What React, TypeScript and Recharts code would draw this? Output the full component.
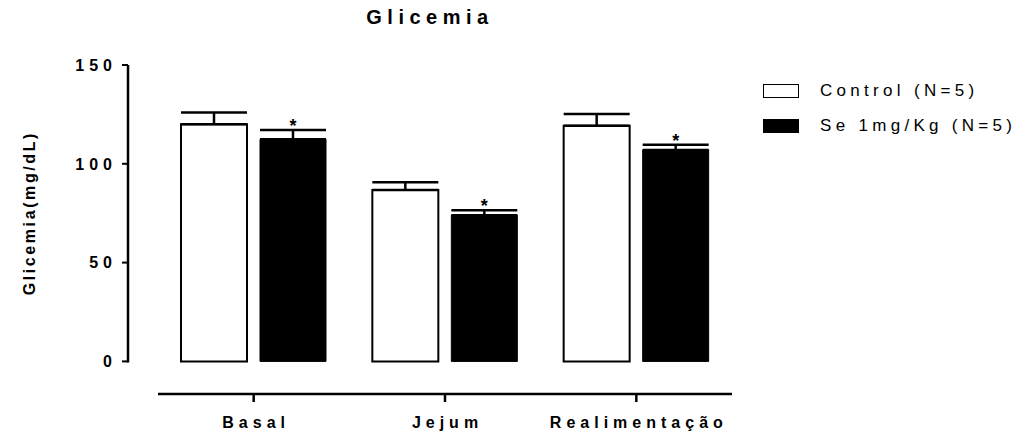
import React from "react";
import { Bar, BarChart, ErrorBar, LabelList, Legend, XAxis, YAxis } from "recharts";

// Glicemia (mg/dL), mean + SEM, n = 5 per group
const CATEGORIES = ["Basal", "Jejum", "Realimentação"];
const CONTROL_MEAN = [120.0, 86.7, 119.3];
const CONTROL_SEM = [5.9, 4.0, 5.9];
const SE_MEAN = [112.4, 74.0, 107.0];
const SE_SEM = [4.7, 2.5, 2.6];
const SE_SIGNIFICANT = [true, true, true];
const Y_TICKS = [0, 50, 100, 150];

const CONTROL_NAME = "Control (N=5)";
const SE_NAME = "Se 1mg/Kg (N=5)";

const data = CATEGORIES.map((cat, i) => ({
  cat,
  control: CONTROL_MEAN[i],
  controlErr: [0, CONTROL_SEM[i]],
  se: SE_MEAN[i],
  seErr: [0, SE_SEM[i]],
  seStar: SE_SIGNIFICANT[i] ? "*" : "",
}));

const W = 1033;
const H = 437;
const LEFT = 128;
const RIGHT = 301;
const TOP = 65;
const BOTTOM = 43;
const Y_MIN = -16.5; // room for the detached x axis below zero
const Y_MAX = 150;
const X_GAP = 30; // x axis starts a bit right of the y axis

const plotW = W - LEFT - RIGHT;
const plotH = H - TOP - BOTTOM;
const yLineLen = (plotH * Y_MAX) / (Y_MAX - Y_MIN);

const FONT = "'Liberation Sans', Arial, sans-serif";

const YTick = (props: any) => {
  const { x, y, payload } = props;
  return (
    <text
      x={x + 3}
      y={y}
      dy="0.36em"
      textAnchor="end"
      fontFamily={FONT}
      fontWeight="bold"
      fontSize={16}
      fill="#000"
      style={{ letterSpacing: 5 }}
    >
      {payload.value}
    </text>
  );
};

const XTick = (props: any) => {
  const { x, y, payload } = props;
  return (
    <text
      x={x + 2.5}
      y={y + 24}
      textAnchor="middle"
      fontFamily={FONT}
      fontWeight="bold"
      fontSize={16}
      fill="#000"
      style={{ letterSpacing: 5 }}
    >
      {payload.value}
    </text>
  );
};

const YLabel = (props: any) => {
  const { viewBox } = props;
  const cx = 30;
  const cy = viewBox.y + yLineLen / 2;
  return (
    <text
      x={cx}
      y={cy}
      transform={`rotate(-90 ${cx} ${cy})`}
      textAnchor="middle"
      dominantBaseline="central"
      fontFamily={FONT}
      fontWeight="bold"
      fontSize={16}
      fill="#000"
      style={{ letterSpacing: 2.6 }}
    >
      Glicemia(mg/dL)
    </text>
  );
};

// asterisk above the error-bar cap of the treated group
const Star = (props: any) => {
  const { x, y, width, height, value, index } = props;
  if (!data[index].seStar) return null;
  const pxPerUnit = height / value;
  const capY = y - SE_SEM[index] * pxPerUnit;
  return (
    <text
      x={x + width / 2}
      y={capY + 2}
      textAnchor="middle"
      fontFamily={FONT}
      fontWeight="bold"
      fontSize={18}
      fill="#000"
    >
      *
    </text>
  );
};

const LegendBox = (props: any) => {
  const { payload } = props;
  return (
    <div style={{ fontFamily: FONT, fontSize: 17, color: "#000" }}>
      {payload.map((entry: any) => (
        <div
          key={entry.value}
          style={{ display: "flex", alignItems: "center", height: 35 }}
        >
          <span
            style={{
              display: "inline-block",
              width: 34,
              height: 12,
              background: entry.color,
              border: "1.5px solid #000",
              marginRight: 21,
            }}
          />
          <span style={{ letterSpacing: 4.3 }}>{entry.value}</span>
        </div>
      ))}
    </div>
  );
};

export default function App() {
  return (
    <div
      style={{
        position: "absolute",
        left: 0,
        top: 0,
        width: W,
        height: H,
        background: "#fff",
      }}
    >
      <div
        style={{
          position: "absolute",
          left: LEFT,
          width: plotW,
          top: 6,
          textAlign: "center",
          fontFamily: FONT,
          fontWeight: "bold",
          fontSize: 20,
          letterSpacing: 5.5,
          color: "#000",
          paddingLeft: 0,
        }}
      >
        Glicemia
      </div>
      <BarChart
        width={W}
        height={H}
        data={data}
        margin={{ top: TOP, right: RIGHT, bottom: 0, left: 0 }}
        barSize={66}
        barGap={13}
      >
        <XAxis
          dataKey="cat"
          height={BOTTOM}
          padding={{ left: X_GAP, right: 0 }}
          interval={0}
          axisLine={{
            stroke: "#000",
            strokeWidth: 2.5,
            strokeDasharray: `0 ${X_GAP} ${plotW} 1000`,
          }}
          tickLine={{ stroke: "#000", strokeWidth: 2.5 }}
          tickSize={8}
          tick={<XTick />}
        />
        <YAxis
          width={LEFT}
          domain={[Y_MIN, Y_MAX]}
          ticks={Y_TICKS}
          allowDataOverflow
          axisLine={{
            stroke: "#000",
            strokeWidth: 2.5,
            strokeDasharray: `${yLineLen + 1} 1000`,
          }}
          tickLine={{ stroke: "#000", strokeWidth: 2 }}
          tickSize={6}
          tickMargin={8}
          tick={<YTick />}
          label={<YLabel />}
        />
        <Legend
          layout="vertical"
          align="center"
          verticalAlign="middle"
          content={<LegendBox />}
          wrapperStyle={{ left: 763, top: 73, width: 270 }}
        />
        <Bar
          dataKey="control"
          name={CONTROL_NAME}
          fill="#ffffff"
          stroke="#000"
          strokeWidth={2}
          isAnimationActive={false}
        >
          <ErrorBar
            dataKey="controlErr"
            width={33}
            stroke="#000"
            strokeWidth={2.5}
            direction="y"
          />
        </Bar>
        <Bar
          dataKey="se"
          name={SE_NAME}
          fill="#000"
          stroke="#000"
          strokeWidth={1}
          isAnimationActive={false}
        >
          <ErrorBar
            dataKey="seErr"
            width={33}
            stroke="#000"
            strokeWidth={2.5}
            direction="y"
          />
          <LabelList dataKey="se" content={<Star />} />
        </Bar>
      </BarChart>
    </div>
  );
}
